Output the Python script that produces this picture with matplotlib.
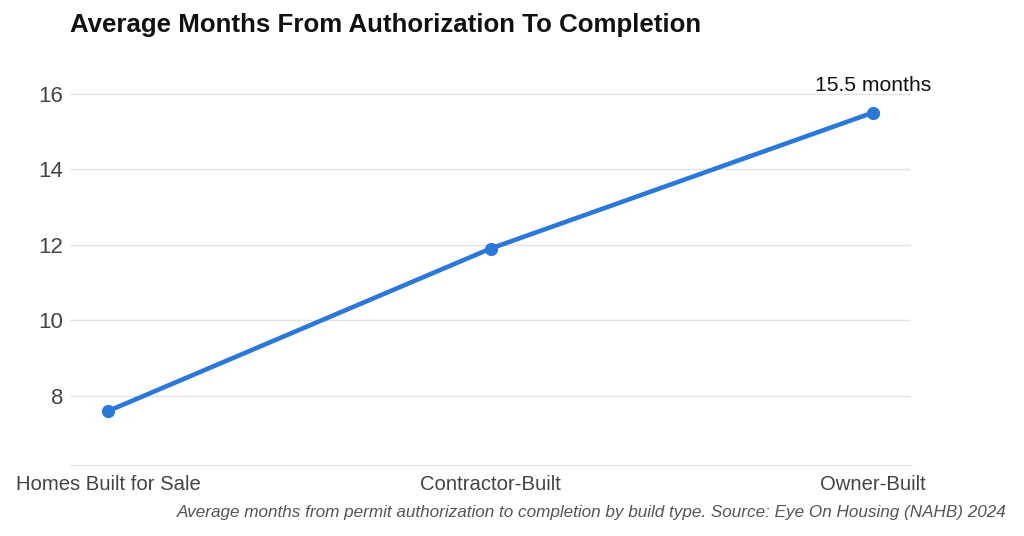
import matplotlib
matplotlib.use("Agg")
import matplotlib.pyplot as plt

categories = ["Homes Built for Sale", "Contractor-Built", "Owner-Built"]
months = [7.6, 11.9, 15.5]
yticks = [8, 10, 12, 14, 16]
annotation = "15.5 months"

plt.rcParams['font.family'] = ['Liberation Sans', 'DejaVu Sans']

fig = plt.figure(figsize=(10.24, 5.36), dpi=100)
ax = fig.add_axes([70/1024, 71/536, 841/1024, 409/536])

x = list(range(len(categories)))
ax.plot(x, months, color="#2b78d8", linewidth=3.3, marker="o", markersize=8.5, zorder=3)

ax.set_xlim(-0.1, len(categories) - 0.9)
ax.set_ylim(6.17, 17)
ax.set_yticks(yticks)
ax.set_xticks(x)
ax.set_xticklabels(categories)
ax.yaxis.grid(True, color="#e3e3e3", linewidth=1)
ax.set_axisbelow(True)
for s in ["top", "right", "left"]:
    ax.spines[s].set_visible(False)
ax.spines["bottom"].set_color("#e3e3e3")
ax.tick_params(axis="x", length=0, labelsize=14.6, colors="#444444", pad=7)
ax.tick_params(axis="y", length=0, labelsize=16, colors="#444444", pad=5)

ax.annotate(annotation, (x[-1], months[-1]), xytext=(0, 13), textcoords="offset points",
            ha="center", va="bottom", fontsize=15.2, color="#111111")

fig.text(70/1024, 1 - 25/536, "Average Months From Authorization To Completion",
         fontsize=18.6, fontweight="bold", ha="left", va="center", color="#111111")
fig.text(1007/1024, 1 - 512/536,
         "Average months from permit authorization to completion by build type. Source: Eye On Housing (NAHB) 2024",
         fontsize=12.35, style="italic", ha="right", va="center", color="#555555")

fig.savefig("out.png", dpi=100)
